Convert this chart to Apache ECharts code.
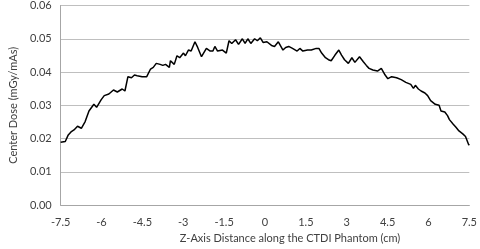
<!DOCTYPE html>
<html><head><meta charset="utf-8">
<script src="https://cdn.jsdelivr.net/npm/echarts@6/dist/echarts.min.js"></script>
<style>html,body{margin:0;padding:0;background:#fff}#c{width:480px;height:249px}</style>
</head><body><div id="c"></div>
<script>
const zPos = [-7.5,-7.33,-7.22,-7.12,-7.01,-6.88,-6.74,-6.60,-6.46,-6.42,-6.28,-6.18,-6.01,-5.90,-5.73,-5.56,-5.42,-5.24,-5.14,-5.03,-4.90,-4.79,-4.69,-4.51,-4.34,-4.20,-4.10,-3.99,-3.85,-3.75,-3.65,-3.51,-3.47,-3.33,-3.23,-3.13,-2.99,-2.92,-2.81,-2.71,-2.57,-2.47,-2.33,-2.26,-2.15,-2.01,-1.91,-1.84,-1.74,-1.56,-1.42,-1.32,-1.22,-1.08,-0.97,-0.83,-0.73,-0.63,-0.52,-0.38,-0.28,-0.17,-0.07,0.07,0.24,0.35,0.49,0.66,0.76,0.87,1.01,1.18,1.28,1.39,1.56,1.70,1.88,1.98,2.08,2.22,2.33,2.43,2.57,2.71,2.81,2.92,3.06,3.19,3.30,3.47,3.61,3.72,3.82,3.96,4.13,4.27,4.41,4.51,4.65,4.83,5.00,5.17,5.35,5.45,5.52,5.63,5.73,5.87,5.97,6.08,6.15,6.25,6.39,6.46,6.60,6.70,6.77,6.91,7.01,7.12,7.26,7.36,7.47,7.5];
const centerDose = [0.0189,0.0191,0.0211,0.0220,0.0226,0.0237,0.0231,0.0251,0.0283,0.0280,0.0303,0.0294,0.0317,0.0329,0.0334,0.0346,0.0340,0.0349,0.0343,0.0386,0.0383,0.0391,0.0389,0.0386,0.0386,0.0409,0.0414,0.0426,0.0423,0.0420,0.0423,0.0414,0.0434,0.0423,0.0449,0.0443,0.0457,0.0449,0.0466,0.0463,0.0491,0.0474,0.0446,0.0451,0.0471,0.0463,0.0463,0.0477,0.0463,0.0466,0.0457,0.0494,0.0486,0.0497,0.0483,0.0500,0.0486,0.0500,0.0486,0.0500,0.0494,0.0503,0.0489,0.0491,0.0480,0.0477,0.0491,0.0466,0.0474,0.0477,0.0471,0.0463,0.0471,0.0463,0.0466,0.0466,0.0471,0.0471,0.0457,0.0443,0.0437,0.0434,0.0451,0.0466,0.0451,0.0437,0.0426,0.0443,0.0429,0.0446,0.0431,0.0420,0.0411,0.0406,0.0403,0.0411,0.0391,0.0380,0.0386,0.0383,0.0377,0.0369,0.0363,0.0351,0.0360,0.0349,0.0343,0.0337,0.0329,0.0314,0.0309,0.0303,0.0300,0.0283,0.0280,0.0269,0.0257,0.0243,0.0234,0.0223,0.0214,0.0206,0.0183,0.0180];
const xTicks = [-7.5,-6,-4.5,-3,-1.5,0,1.5,3,4.5,6,7.5];
const yTicks = [0,0.01,0.02,0.03,0.04,0.05,0.06];

const chart = echarts.init(document.getElementById('c'));
const font = 'Lato, Open Sans, sans-serif';
chart.setOption({
  animation: false,
  grid: {left: 42, right: 6, top: 5, bottom: 34},
  xAxis: {
    type: 'value', min: xTicks[0], max: xTicks[xTicks.length-1], interval: 1.5,
    name: 'Z-Axis Distance along the CTDI Phantom (cm)', nameLocation: 'middle', nameGap: 22,
    nameTextStyle: {fontFamily: font, fontSize: 11, color: '#404040', padding: [0,0,0,50]},
    axisLine: {show: true, lineStyle: {color: '#a6a6a6'}},
    axisTick: {show: false},
    splitLine: {show: false},
    axisLabel: {fontFamily: font, fontSize: 11, color: '#404040', margin: 12,
      formatter: v => String(v)}
  },
  yAxis: {
    type: 'value', min: yTicks[0], max: yTicks[yTicks.length-1], interval: 0.01,
    name: 'Center Dose (mGy/mAs)', nameLocation: 'middle', nameGap: 34,
    nameTextStyle: {fontFamily: font, fontSize: 11, color: '#404040'},
    axisLine: {show: true, onZero: false, lineStyle: {color: '#a6a6a6'}},
    axisTick: {show: false},
    splitLine: {show: true, lineStyle: {color: '#bfbfbf', width: 1}},
    axisLabel: {fontFamily: font, fontSize: 11, color: '#404040', margin: 9,
      formatter: v => v.toFixed(2)}
  },
  series: [{
    type: 'line', data: zPos.map((z, i) => [z, centerDose[i]]),
    showSymbol: false, smooth: false,
    lineStyle: {color: '#000', width: 1.5}
  }]
});
</script></body></html>
